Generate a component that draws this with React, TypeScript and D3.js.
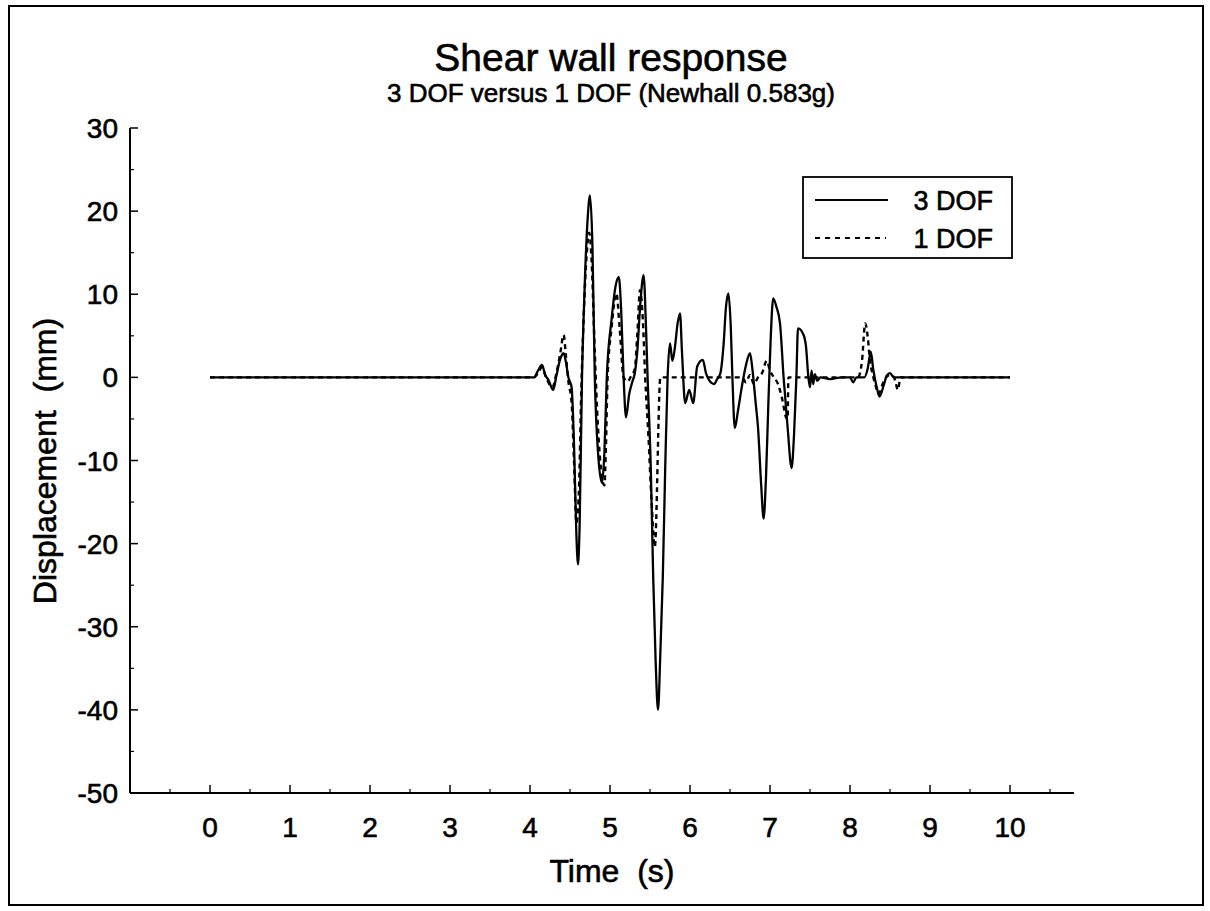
import React from "react";
import * as d3 from "d3";

const time3 = [0, 4.05, 4.1, 4.15, 4.19, 4.23, 4.29, 4.33, 4.375, 4.42, 4.45, 4.48, 4.52, 4.55, 4.58, 4.6, 4.62, 4.65, 4.68, 4.72, 4.75, 4.78, 4.81, 4.85, 4.9, 4.93, 4.96, 5.02, 5.07, 5.11, 5.14, 5.17, 5.2, 5.24, 5.28, 5.31, 5.34, 5.38, 5.42, 5.45, 5.47, 5.51, 5.54, 5.57, 5.6, 5.63, 5.66, 5.69, 5.72, 5.75, 5.78, 5.81, 5.845, 5.875, 5.9, 5.94, 5.99, 6.04, 6.09, 6.16, 6.2, 6.25, 6.3, 6.34, 6.38, 6.42, 6.45, 6.48, 6.51, 6.53, 6.56, 6.6, 6.65, 6.7, 6.75, 6.78, 6.82, 6.85, 6.89, 6.92, 6.95, 6.98, 7.01, 7.04, 7.08, 7.125, 7.17, 7.22, 7.27, 7.3, 7.33, 7.35, 7.42, 7.45, 7.48, 7.5, 7.52, 7.54, 7.56, 7.59, 7.63, 7.75, 7.9, 8.0, 8.04, 8.08, 8.18, 8.22, 8.26, 8.29, 8.33, 8.37, 8.42, 8.46, 8.5, 8.55, 10];
const disp3 = [0, 0, 0.8, 1.5, 0.3, -0.3, -1.5, 0.2, 2.1, 2.9, 1.8, 0, -1.2, -8, -19, -22.5, -18, 0, 10, 19, 21.9, 16, 0, -9, -12.7, -9, 0, 7, 11, 12.1, 8, 0, -4.8, -2, -0.5, 0.5, 3, 9, 12.3, 6, 0, -11, -24, -34, -40, -33, -24, -11, 0, 4.1, 2, 3.5, 6.5, 7.7, 3, -3.1, -1.5, -3.1, 1.3, 2.1, 0.5, -0.5, -0.8, -0.2, 0.5, 4, 8.5, 10.1, 6, 0, -6.1, -4, -1, 1.5, 2.9, 1, -3, -6, -13, -17, -12, -3, 5, 9.5, 8.5, 6.5, 0, -6, -10.9, -7, 0, 5.9, 5.1, 3.7, 0, -1.2, 0.8, -0.8, 0.4, -0.4, 0, -0.2, 0, 0, -0.6, 0, 0, 1, 3.1, 1, -1, -2.3, -1, 0.2, 0.5, 0, 0];

const time1 = [0, 4.05, 4.1, 4.15, 4.2, 4.28, 4.33, 4.38, 4.42, 4.45, 4.48, 4.52, 4.55, 4.58, 4.61, 4.64, 4.67, 4.71, 4.74, 4.77, 4.81, 4.85, 4.9, 4.93, 4.95, 4.97, 5.02, 5.08, 5.12, 5.17, 5.22, 5.27, 5.31, 5.34, 5.375, 5.41, 5.44, 5.48, 5.52, 5.56, 5.63, 6.65, 6.7, 6.75, 6.8, 6.85, 6.9, 6.96, 7.0, 7.05, 7.1, 7.15, 7.2, 7.22, 7.23, 8.1, 8.15, 8.19, 8.22, 8.25, 8.28, 8.32, 8.36, 8.4, 8.45, 8.5, 8.55, 8.6, 8.63, 10];
const disp1 = [0, 0, 0.5, 1.2, 0, -1.2, 0.5, 3, 5.1, 2.5, -0.5, -3, -10, -17.5, -14, -2, 7, 15, 17.4, 14, 3, -6, -12, -13, -8, 0, 6, 10.1, 6, 0, -0.5, 0.3, 1, 5, 10.5, 7, 0, -7, -15, -20.4, 0, 0, -0.6, 0.3, -0.8, 0, 0.5, 2, 0.8, 0, -0.8, -2.5, -4.8, -5, 0, 0, 2, 6.5, 5, 2, 0.5, -1, -2, -1, 0, 0.3, 0, -1.5, 0, 0];

const xMajor = [0, 1, 2, 3, 4, 5, 6, 7, 8, 9, 10];
const xMinor = [-0.5, 0.5, 1.5, 2.5, 3.5, 4.5, 5.5, 6.5, 7.5, 8.5, 9.5, 10.5];
const yMajor = [-50, -40, -30, -20, -10, 0, 10, 20, 30];
const yMinor = [-45, -35, -25, -15, -5, 5, 15, 25];

const seriesNames = ["3 DOF", "1 DOF"];
const titleText = "Shear wall response";
const subtitleText = "3 DOF versus 1 DOF (Newhall 0.583g)";
const xLabel = "Time\u00A0\u00A0(s)";
const yLabel = "Displacement\u00A0\u00A0(mm)";

const FONT = "'Liberation Sans', Arial, Helvetica, sans-serif";
const TS = { stroke: "#000", strokeWidth: 0.6 };

export default function App() {
  const x = d3.scaleLinear().domain([-1, 10.8]).range([130, 1074]);
  const y = d3.scaleLinear().domain([-50, 30]).range([793, 128]);
  const line = d3
    .line<[number, number]>()
    .x((d) => x(d[0]))
    .y((d) => y(d[1]))
    .curve(d3.curveMonotoneX);
  const pts3 = time3.map((t, i) => [t, disp3[i]] as [number, number]);
  const pts1 = time1.map((t, i) => [t, disp1[i]] as [number, number]);
  const [x0, x1] = x.range();
  const [yb, yt] = y.range();

  return (
    <svg
      width={1210}
      height={911}
      style={{ position: "absolute", left: 0, top: 0, background: "#fff" }}
      fontFamily={FONT}
    >
      <rect x={0} y={0} width={1210} height={911} fill="#fff" />
      <rect x={9} y={6} width={1194} height={899} fill="none" stroke="#000" strokeWidth={2} />

      <text x={611} y={71} textAnchor="middle" fontSize={39} {...TS}>{titleText}</text>
      <text x={611} y={102} textAnchor="middle" fontSize={26} {...TS}>{subtitleText}</text>

      {/* axes */}
      <line x1={x0} x2={x0} y1={yt} y2={yb} stroke="#000" strokeWidth={2} />
      <line x1={x0} x2={x1} y1={yb} y2={yb} stroke="#000" strokeWidth={2.2} />

      {yMajor.map((v) => (
        <g key={"ym" + v}>
          <line x1={x0} x2={x0 + 8} y1={y(v)} y2={y(v)} stroke="#000" strokeWidth={1.5} />
          <text x={118} y={y(v)} dy="0.36em" textAnchor="end" fontSize={28} {...TS}>{v}</text>
        </g>
      ))}
      {yMinor.map((v) => (
        <line key={"yn" + v} x1={x0} x2={x0 + 4} y1={y(v)} y2={y(v)} stroke="#000" strokeWidth={1.2} />
      ))}
      {xMajor.map((v) => (
        <g key={"xm" + v}>
          <line x1={x(v)} x2={x(v)} y1={yb} y2={yb - 8} stroke="#000" strokeWidth={1.5} />
          <text x={x(v)} y={837} textAnchor="middle" fontSize={28} {...TS}>{v}</text>
        </g>
      ))}
      {xMinor.map((v) => (
        <line key={"xn" + v} x1={x(v)} x2={x(v)} y1={yb} y2={yb - 4} stroke="#000" strokeWidth={1.2} />
      ))}

      <text x={612} y={882} textAnchor="middle" fontSize={32} {...TS}>{xLabel}</text>
      <text
        transform={`translate(56,461) rotate(-90)`}
        textAnchor="middle"
        fontSize={32}
        {...TS}
      >
        {yLabel}
      </text>

      {/* series */}
      <path d={line(pts3) || ""} fill="none" stroke="#000" strokeWidth={2.3} strokeLinejoin="round" />
      <path d={line(pts1) || ""} fill="none" stroke="#000" strokeWidth={2.4} strokeDasharray="5,4" strokeLinejoin="round" />

      {/* legend */}
      <rect x={803} y={177} width={209} height={81} fill="#fff" stroke="#000" strokeWidth={1.8} />
      <line x1={815} x2={888} y1={200} y2={200} stroke="#000" strokeWidth={2} />
      <line x1={815} x2={886} y1={238} y2={238} stroke="#000" strokeWidth={2} strokeDasharray="5,5" />
      <text x={993} y={200} dy="0.36em" textAnchor="end" fontSize={27} {...TS}>{seriesNames[0]}</text>
      <text x={993} y={238} dy="0.36em" textAnchor="end" fontSize={27} {...TS}>{seriesNames[1]}</text>
    </svg>
  );
}
